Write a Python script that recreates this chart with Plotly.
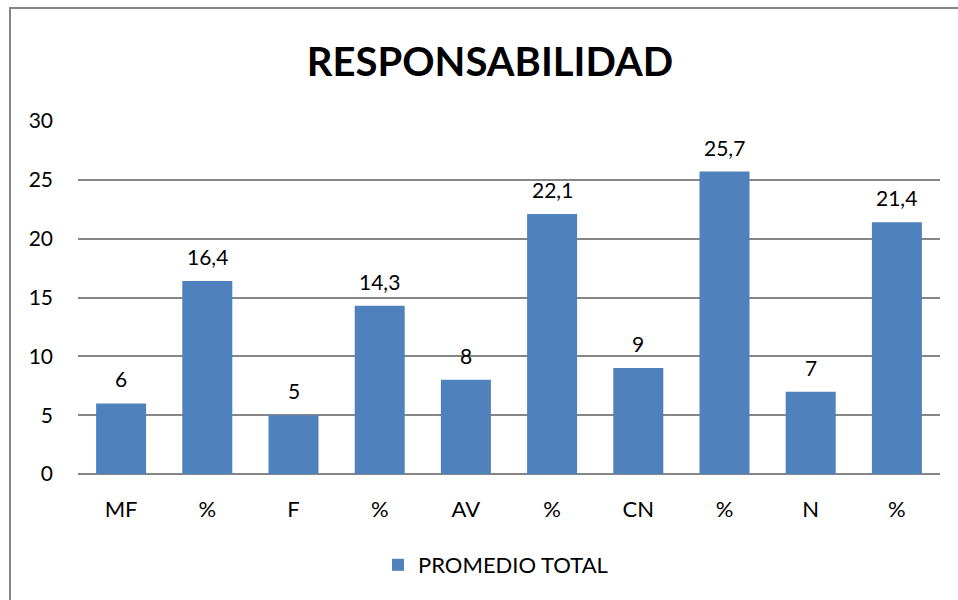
import plotly.graph_objects as go

# categories (repeated "%" labels so we plot by position)
categorias = ["MF", "%", "F", "%", "AV", "%", "CN", "%", "N", "%"]
valores = [6, 16.4, 5, 14.3, 8, 22.1, 9, 25.7, 7, 21.4]
posiciones = list(range(len(categorias)))
serie = "PROMEDIO TOTAL"

W, H = 958, 600
ML, MR, MT, MB = 78, 18, 121, 126
pw = W - ML - MR
ph = H - MT - MB

fig = go.Figure()
fig.add_trace(
    go.Bar(
        x=posiciones,
        y=valores,
        name=serie,
        marker=dict(color="#4F81BD", line=dict(width=0)),
    )
)

# value labels above each bar
for p, v in zip(posiciones, valores):
    fig.add_annotation(
        x=p,
        y=v,
        text=f"{v:g}".replace(".", ","),
        showarrow=False,
        yanchor="bottom",
        yshift=10,
        font=dict(size=21, color="black"),
    )

fig.update_xaxes(
    tickmode="array",
    tickvals=posiciones,
    ticktext=categorias,
    range=[-0.5, 9.5],
    showgrid=False,
    showline=False,
    ticks="",
    ticklabelstandoff=20,
    tickfont=dict(size=22, color="black"),
)
fig.update_yaxes(
    range=[0, 30],
    dtick=5,
    showgrid=True,
    gridcolor="#868686",
    gridwidth=1.6,
    zeroline=True,
    zerolinecolor="#868686",
    zerolinewidth=1.6,
    ticks="",
    ticklabelstandoff=24,
    tickfont=dict(size=21, color="black"),
)

# outer chart border (Excel chart area)
fig.add_shape(
    type="rect",
    xref="paper",
    yref="paper",
    x0=(10 - ML) / pw,
    x1=(W + 5 - ML) / pw,
    y0=-(H + 5 - MT - ph) / ph,
    y1=1 + (MT - 8) / ph,
    line=dict(color="#868686", width=2),
    fillcolor="rgba(0,0,0,0)",
    layer="below",
)

fig.update_layout(
    width=W,
    height=H,
    margin=dict(l=ML, r=MR, t=MT, b=MB),
    paper_bgcolor="white",
    plot_bgcolor="white",
    font=dict(family="Lato, Open Sans, sans-serif", color="black"),
    title=dict(
        text="<b>RESPONSABILIDAD</b>",
        x=490 / W,
        xanchor="center",
        y=1 - 62 / H,
        yanchor="middle",
        font=dict(size=40, color="black"),
    ),
    bargap=0.42,
    showlegend=True,
    legend=dict(
        orientation="h",
        x=(378 - ML) / pw,
        xanchor="left",
        y=-(565 - MT - ph) / ph,
        yanchor="middle",
        font=dict(size=22, color="black"),
    ),
)

fig.write_html(
    "out.html",
    config={"displayModeBar": False},
    post_script="document.body.style.margin='0';",
)
